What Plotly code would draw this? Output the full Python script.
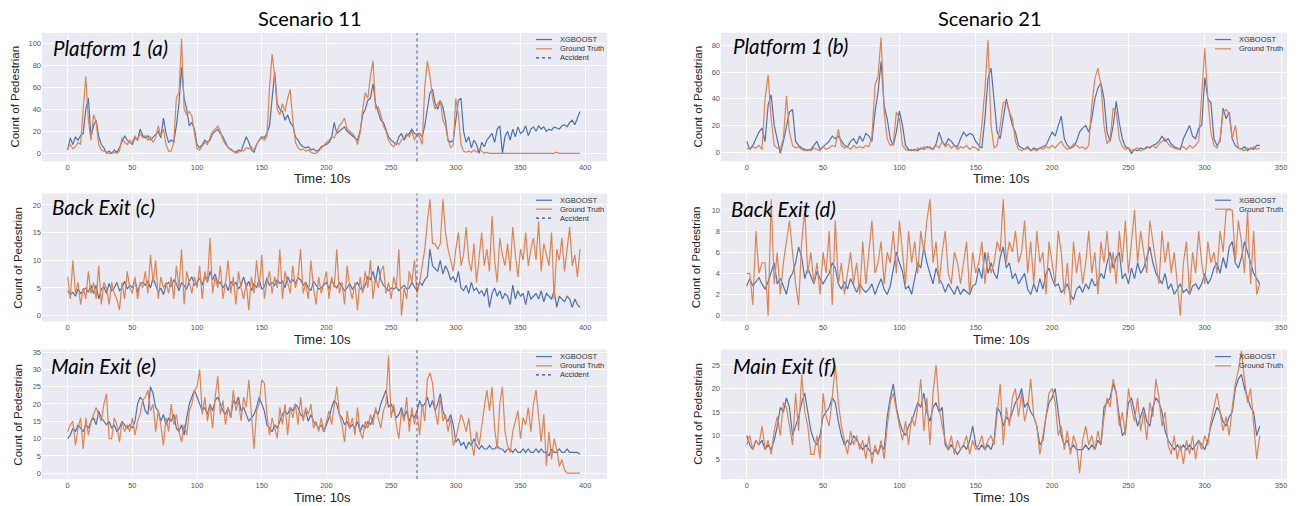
import plotly.graph_objects as go

# ---------------- data (time step sampled every 2 units of 10 s) ----------------
STEP = 2
T_S11 = list(range(0, 397, STEP))   # Scenario 11: 0..396
T_S21 = list(range(0, 337, STEP))   # Scenario 21: 0..336
ACCIDENT_T = 270

# Scenario 11 - Platform 1 (a)
XGB_A = [3, 14, 8, 15, 12, 16, 18, 40, 50, 15,
         25, 30, 15, 8, 5, 0, 2, 0, 3, 1,
         5, 10, 16, 12, 10, 8, 14, 12, 22, 16,
         14, 16, 12, 15, 18, 20, 14, 32, 18, 10,
         12, 10, 25, 45, 78, 50, 40, 25, 28, 22,
         8, 5, 8, 12, 10, 12, 18, 20, 22, 18,
         15, 10, 5, 4, 2, 1, 3, 2, 8, 15,
         10, 3, 1, 8, 12, 15, 14, 18, 25, 50,
         74, 45, 40, 38, 30, 35, 28, 25, 15, 12,
         8, 6, 5, 6, 3, 4, 2, 3, 6, 7,
         8, 10, 14, 28, 18, 20, 22, 24, 20, 18,
         16, 14, 12, 20, 35, 40, 48, 50, 63, 45,
         38, 30, 28, 22, 15, 12, 10, 8, 15, 18,
         12, 16, 18, 22, 18, 17, 18, 15, 25, 40,
         55, 58, 45, 40, 48, 42, 30, 12, 10, 12,
         30, 48, 50, 20, 10, 15, 5, 12, 8, 0,
         10, 6, 12, 15, 18, 10, 22, 25, 0, 15,
         20, 12, 22, 15, 24, 18, 20, 25, 16, 22,
         24, 20, 25, 22, 24, 20, 22, 21, 24, 23,
         22, 25, 26, 24, 28, 30, 26, 32, 38]
GT_A = [5, 8, 4, 6, 10, 8, 40, 70, 30, 12,
        35, 28, 8, 3, 2, 1, 0, 0, 1, 0,
        2, 14, 10, 8, 12, 10, 16, 12, 18, 14,
        16, 12, 15, 10, 14, 25, 16, 22, 8, 2,
        2, 10, 50, 55, 104, 40, 35, 38, 34, 18,
        4, 3, 6, 10, 8, 15, 20, 22, 25, 20,
        12, 8, 5, 3, 2, 0, 1, 3, 2, 5,
        4, 6, 3, 8, 12, 14, 12, 15, 60, 90,
        70, 40, 35, 45, 38, 50, 58, 30, 10, 5,
        3, 4, 2, 3, 1, 0, 0, 2, 5, 8,
        10, 12, 15, 14, 20, 25, 28, 32, 22, 20,
        18, 15, 8, 18, 40, 55, 50, 70, 84, 40,
        42, 35, 25, 20, 12, 8, 6, 10, 8, 12,
        14, 18, 15, 20, 12, 18, 15, 8, 60, 84,
        70, 50, 40, 45, 48, 30, 25, 12, 5, 8,
        50, 35, 8, 2, 1, 2, 1, 3, 1, 4,
        2, 0, 1, 0, 0, 0, 0, 0, 0, 0,
        0, 0, 0, 0, 0, 0, 0, 0, 0, 0,
        0, 0, 0, 0, 0, 0, 0, 0, 0, 1,
        0, 0, 0, 0, 0, 0, 0, 0, 0]

# Scenario 21 - Platform 1 (b)
XGB_B = [8, 2, 5, 10, 15, 18, 8, 35, 43, 20,
         10, -1, 8, 20, 30, 32, 8, 5, 3, 2,
         1, 2, 5, 8, 2, 4, 6, 8, 12, 10,
         12, 8, 5, 4, 8, 10, 6, 12, 8, 14,
         12, 8, 30, 45, 68, 35, 25, 10, 5, 15,
         31, 20, 5, 2, 1, 2, 1, 3, 2, 4,
         3, 2, 6, 15, 8, 5, 10, 8, 5, 4,
         10, 15, 12, 14, 13, 8, 5, 3, 25, 55,
         63, 40, 15, 10, 25, 40, 30, 20, 15, 5,
         3, 2, 4, 1, 3, 2, 3, 4, 5, 10,
         15, 12, 20, 27, 10, 5, 3, 4, 8, 15,
         18, 20, 15, 25, 40, 48, 52, 40, 15, 8,
         20, 38, 22, 10, 4, 3, -1, 2, 1, 3,
         2, 4, 3, 5, 6, 8, 12, 8, 10, 6,
         4, 3, 2, 10, 15, 20, 12, 10, 18, 20,
         56, 40, 37, 10, 5, 8, 33, 25, 30, 10,
         5, 3, 2, 4, 1, 3, 2, 5, 5]
GT_B = [3, 2, 4, 3, 5, 2, 40, 58, 25, 5,
        3, 2, 10, 42, 15, 5, 3, 4, 2, 1,
        2, 1, 3, 2, 1, 4, 2, 3, 5, 4,
        17, 5, 3, 4, 2, 5, 3, 4, 3, 5,
        4, 12, 50, 57, 86, 30, 10, 5, 6, 30,
        25, 5, 2, 1, 2, 1, 3, 2, 4, 3,
        4, 2, 5, 3, 8, 4, 6, 3, 5, 2,
        4, 3, 5, 2, 4, 3, 1, 20, 47, 84,
        20, 3, 5, 20, 37, 38, 30, 25, 8, 2,
        1, 2, 3, 1, 2, 1, 3, 2, 4, 3,
        5, 3, 6, 8, 4, 2, 3, 6, 5, 3,
        4, 2, 5, 35, 55, 63, 50, 20, 6, 10,
        33, 30, 10, 4, 2, 3, 1, 2, 3, 1,
        2, 3, 4, 5, 3, 6, 8, 10, 6, 4,
        3, 2, 3, 4, 2, 5, 3, 5, 8, 45,
        78, 40, 15, 5, 3, 10, 30, 32, 28, 10,
        20, 3, 2, 1, 3, 2, 4, 2, 3]

# Scenario 11 - Back Exit (c)
XGB_C = [4.5, 3.8, 4.2, 3.5, 4.8, 4.0, 4.5, 5.0, 4.2, 5.5,
         4.0, 5.5, 3.0, 4.8, 5.2, 4.0, 5.8, 4.5, 5.0, 6.0,
         4.5, 5.0, 6.2, 4.8, 5.5, 5.0, 6.5, 4.2, 5.8, 6.0,
         5.5, 6.2, 5.0, 6.8, 5.5, 4.2, 5.0, 3.8, 5.5, 6.0,
         5.2, 6.5, 5.8, 4.5, 6.0, 5.5, 4.8, 6.2, 7.0, 5.5,
         6.0, 6.8, 5.5, 7.2, 6.0, 8.0, 6.5, 7.5, 5.8, 6.0,
         5.0, 5.8, 4.5, 6.2, 5.5, 6.0, 4.8, 5.5, 7.0, 5.2,
         6.2, 4.5, 5.8, 5.0, 6.5, 4.8, 5.2, 6.8, 5.5, 6.0,
         5.5, 6.5, 5.8, 6.2, 5.0, 7.0, 6.0, 6.5, 5.8, 6.8,
         6.5, 5.5, 6.0, 5.0, 4.5, 6.2, 5.5, 4.8, 5.0, 5.5,
         6.0, 4.8, 6.5, 5.5, 5.0, 6.0, 5.2, 4.5, 5.0, 5.8,
         4.8, 5.5, 6.0, 5.0, 4.5, 5.5, 7.0, 6.5, 8.0, 6.0,
         9.0, 6.5, 5.5, 5.0, 4.5, 5.0, 4.8, 5.2, 4.5, 5.0,
         5.5, 4.8, 5.0, 6.0, 5.2, 4.5, 6.0, 5.5, 6.5, 7.0,
         12.0, 9.0, 8.5, 8.0, 10.0, 7.5, 9.0, 8.0, 6.5, 7.0,
         6.0, 8.0, 5.0, 4.5, 5.5, 4.0, 6.0, 4.5, 5.0, 4.0,
         4.5, 3.5, 5.0, 1.5, 4.0, 5.0, 3.5, 4.5, 3.0, 4.0,
         3.5, 2.0, 5.5, 3.0, 4.5, 3.5, 4.0, 2.0, 4.5, 3.0,
         3.5, 4.0, 3.0, 4.5, 2.5, 4.0, 3.5, 3.0, 4.5, 1.5,
         3.5, 3.0, 2.5, 3.5, 3.0, 1.5, 3.0, 2.0, 1.5]
GT_C = [7, 3, 10, 4, 6, 2, 5, 3, 8, 4,
        6, 3, 9, 2, 6, 5, 2, 6, 4, 3,
        1, 6, 3, 8, 5, 4, 7, 3, 6, 5,
        8, 4, 11, 6, 10, 3, 7, 5, 6, 4,
        7, 3, 9, 5, 12, 2, 8, 6, 4, 7,
        5, 9, 3, 8, 6, 14, 4, 7, 5, 9,
        3, 6, 10, 4, 7, 2, 8, 5, 3, 6,
        1, 7, 4, 10, 5, 11, 3, 6, 8, 4,
        7, 5, 12, 3, 8, 6, 4, 9, 5, 7,
        12, 4, 6, 3, 10, 5, 2, 7, 4, 6,
        8, 3, 7, 5, 12, 4, 6, 2, 9, 5,
        3, 6, 1, 7, 4, 8, 5, 10, 3, 7,
        5, 8, 9, 4, 6, 3, 7, 5, 12, 0,
        5, 3, 8, 6, 10, 4, 6, 9, 12, 17,
        21, 13, 13, 12, 13, 21, 15, 12, 10, 8,
        12, 15, 9, 11, 16, 10, 8, 13, 6, 11,
        15, 9, 12, 8, 18, 10, 6, 14, 11, 9,
        13, 8, 16, 11, 7, 12, 10, 15, 9, 12,
        14, 10, 17, 8, 13, 11, 9, 15, 3, 12,
        10, 14, 8, 12, 16, 9, 11, 7, 12]

# Scenario 21 - Back Exit (d)
XGB_D = [2.8, 3.5, 2.8, 3.2, 3.6, 3.0, 2.5, 3.2, 4.0, 5.0,
         3.0, 3.5, 2.8, 2.0, 3.5, 4.0, 5.0, 6.5, 5.5, 3.5,
         4.5, 3.8, 3.0, 4.2, 3.5, 3.0, 3.5, 4.0, 5.0, 4.5,
         3.0, 2.5, 3.2, 2.5, 3.5, 2.8, 2.2, 3.0, 2.5, 2.2,
         2.5, 3.0, 2.0, 2.8, 3.5, 2.5, 2.0, 2.8, 4.5, 6.0,
         5.0, 4.2, 2.5, 2.8, 2.0, 3.5, 5.0, 4.5, 6.5, 5.0,
         4.0, 3.0, 4.5, 3.5, 3.0, 2.2, 3.0, 2.5, 2.0, 2.8,
         2.0, 2.5, 2.2, 2.0, 2.8, 3.0, 4.5, 3.5, 6.0, 4.0,
         5.0, 4.0, 3.5, 5.5, 6.5, 4.5, 5.0, 3.5, 4.0, 3.0,
         3.5, 4.0, 2.5, 2.0, 3.0, 2.2, 3.5, 2.5, 4.0, 4.5,
         3.5, 2.8, 3.0, 2.2, 2.5, 3.0, 2.0, 1.5, 2.5, 2.8,
         2.2, 3.0, 2.5, 3.5, 2.8, 3.2, 4.0, 3.5, 5.0, 6.0,
         4.5, 5.5, 6.0, 3.5, 4.0, 3.0, 4.5, 3.5, 5.0, 4.0,
         4.5, 5.5, 6.5, 5.0, 4.0, 3.5, 3.0, 4.0, 2.5, 3.0,
         2.0, 2.5, 3.0, 2.2, 2.5, 2.0, 2.8, 3.0, 2.5, 3.0,
         4.0, 3.0, 3.5, 4.5, 5.0, 4.0, 5.5, 4.5, 6.5, 7.0,
         5.0, 4.5, 5.5, 7.0, 6.0, 5.0, 4.0, 3.5, 3.0]
GT_D = [4, 4, 1, 8, 4, 5, 5, 0, 11, 3,
        6, 2, 5, 7, 9, 6, 3, 1, 7, 10,
        4, 6, 3, 5, 2, 6, 4, 8, 1, 9,
        3, 5, 2, 4, 6, 3, 5, 2, 7, 3,
        6, 9, 4, 5, 7, 3, 6, 5, 8, 4,
        9, 6, 3, 8, 5, 7, 4, 8, 6, 9,
        11, 5, 7, 3, 6, 8, 4, 3, 6, 5,
        3, 5, 7, 2, 6, 4, 5, 7, 3, 6,
        4, 5, 7, 6, 11, 5, 7, 6, 8, 5,
        6, 9, 4, 7, 3, 8, 5, 6, 2, 7,
        5, 3, 8, 6, 2, 5, 1, 7, 4, 6,
        3, 5, 8, 4, 6, 2, 7, 5, 8, 4,
        6, 3, 8, 5, 9, 4, 7, 10, 5, 8,
        6, 4, 9, 7, 5, 3, 8, 5, 7, 4,
        6, 3, 0, 5, 7, 2, 6, 4, 8, 5,
        3, 7, 5, 6, 4, 8, 6, 10, 10, 10,
        5, 9, 7, 4, 10, 3, 8, 2, 3]

# Scenario 11 - Main Exit (e)
XGB_E = [10, 11, 13, 12, 14, 13, 12, 14, 13, 15,
         16, 14, 18, 16, 15, 14, 15, 13, 14, 12,
         13, 15, 14, 13, 14, 13, 15, 20, 22, 21,
         18, 17, 25, 23, 19, 18, 15, 17, 14, 16,
         15, 17, 13, 12, 14, 11, 16, 20, 22, 24,
         22, 20, 18, 19, 17, 20, 18, 21, 22, 20,
         18, 17, 19, 16, 21, 20, 22, 18, 19, 17,
         15, 16, 17, 19, 22, 20, 18, 14, 13, 12,
         14, 13, 15, 17, 18, 17, 19, 18, 20, 19,
         17, 16, 18, 15, 17, 15, 14, 13, 14, 12,
         14, 16, 19, 21, 20, 17, 16, 14, 15, 13,
         14, 13, 15, 12, 14, 13, 15, 14, 16, 18,
         17, 20, 22, 24, 19, 20, 18, 16, 17, 19,
         16, 18, 15, 17, 16, 18, 21, 19, 20, 22,
         19, 21, 18, 20, 23, 18, 16, 15, 17, 14,
         9, 10, 8, 9, 7, 9, 8, 10, 8, 7,
         8, 7, 7, 8, 7, 7, 8, 7, 7, 6,
         7, 7, 6, 7, 6, 6, 7, 6, 7, 6,
         6, 7, 6, 7, 6, 6, 5, 7, 6, 6,
         7, 6, 6, 7, 6, 6, 6, 6, 5.5]
GT_E = [12, 14, 15, 8, 13, 16, 7, 16, 11, 15,
        17, 19, 17, 15, 20, 23, 10, 10, 16, 14,
        9, 15, 12, 14, 12, 16, 11, 15, 17, 21,
        22, 24, 18, 20, 12, 18, 14, 8, 16, 12,
        20, 14, 17, 12, 9, 14, 11, 18, 20, 24,
        25, 30, 17, 22, 15, 20, 13, 22, 28, 17,
        21, 14, 19, 16, 24, 18, 21, 15, 22, 19,
        27, 17, 7, 18, 20, 27, 26, 17, 11, 16,
        13, 10, 19, 14, 20, 11, 19, 16, 20, 14,
        22, 15, 19, 17, 20, 13, 15, 12, 16, 12,
        15, 18, 14, 20, 25, 17, 14, 9, 18, 13,
        16, 11, 19, 12, 10, 15, 13, 17, 14, 19,
        16, 13, 18, 20, 34, 16, 20, 14, 10, 18,
        15, 22, 12, 19, 14, 18, 11, 20, 15, 27,
        29, 26, 18, 14, 22, 15, 17, 12, 16, 8,
        10, 14, 17, 15, 12, 16, 9, 5, 12, 8,
        14, 19, 24, 18, 25, 13, 7, 20, 25, 12,
        8, 6, 12, 15, 18, 10, 16, 14, 19, 12,
        20, 24, 16, 9, 17, 2, 12, 4, 10, 7,
        2, 4, 1, 0, 0, 0, 0, 0, 0]

# Scenario 21 - Main Exit (f)
XGB_F = [10, 8, 7, 9, 8, 9, 7, 8, 7, 9,
         12, 16, 15, 18, 16, 10, 12, 14, 17, 19,
         15, 11, 9, 8, 10, 14, 15, 16, 18, 17,
         13, 10, 8, 9, 8, 10, 9, 8, 7, 8,
         7, 6, 7, 6, 8, 7, 14, 18, 21, 16,
         13, 11, 10, 12, 13, 15, 17, 16, 19, 15,
         13, 16, 17, 15, 16, 8, 7, 8, 7, 6,
         7, 8, 7, 9, 12, 8, 7, 8, 7, 8,
         7, 9, 16, 15, 12, 14, 13, 15, 17, 18,
         20, 16, 17, 15, 14, 12, 8, 9, 14, 17,
         18, 20, 15, 10, 8, 9, 7, 8, 7, 7,
         7, 8, 7, 8, 7, 9, 8, 16, 17, 18,
         21, 19, 14, 10, 11, 17, 18, 15, 12, 14,
         16, 13, 12, 16, 18, 17, 15, 11, 9, 8,
         7, 8, 7, 8, 7, 8, 7, 8, 9, 8,
         7, 9, 12, 14, 16, 15, 13, 12, 14, 15,
         20, 22, 23, 20, 18, 16, 15, 10, 12]
GT_F = [8, 10, 7, 9, 8, 12, 7, 9, 6, 11,
        14, 10, 17, 16, 12, 8, 19, 11, 23, 15,
        12, 6, 6, 10, 5, 19, 14, 12, 18, 25,
        17, 12, 9, 6, 11, 8, 10, 7, 9, 5,
        10, 4, 8, 6, 9, 5, 12, 17, 19, 15,
        12, 9, 13, 8, 14, 12, 16, 22, 11, 18,
        8, 19, 25, 16, 12, 9, 7, 10, 6, 9,
        7, 8, 10, 6, 9, 7, 8, 10, 7, 9,
        10, 8, 14, 21, 8, 16, 12, 18, 20, 14,
        19, 13, 16, 22, 14, 12, 6, 10, 14, 19,
        20, 17, 10, 12, 7, 11, 6, 10, 8, 2,
        9, 12, 8, 10, 7, 11, 8, 14, 18, 16,
        22, 19, 12, 15, 10, 20, 16, 13, 18, 11,
        15, 9, 17, 14, 22, 18, 12, 15, 8, 6,
        10, 5, 8, 4, 9, 6, 10, 5, 9, 7,
        10, 8, 13, 16, 19, 15, 11, 14, 10, 16,
        21, 24, 28, 22, 17, 20, 12, 5, 10]

for name, arr, t in [("XGB_A", XGB_A, T_S11), ("GT_A", GT_A, T_S11),
                     ("XGB_C", XGB_C, T_S11), ("GT_C", GT_C, T_S11),
                     ("XGB_E", XGB_E, T_S11), ("GT_E", GT_E, T_S11),
                     ("XGB_B", XGB_B, T_S21), ("GT_B", GT_B, T_S21),
                     ("XGB_D", XGB_D, T_S21), ("GT_D", GT_D, T_S21),
                     ("XGB_F", XGB_F, T_S21), ("GT_F", GT_F, T_S21)]:
    assert len(arr) == len(t), (name, len(arr), len(t))

SCENARIO_TITLES = ["Scenario 11", "Scenario 21"]
PANEL_LABELS = ["Platform 1 (a)", "Platform 1 (b)", "Back Exit (c)",
                "Back Exit (d)", "Main Exit (e)", "Main Exit (f)"]
X_TICKS_S11 = [0, 50, 100, 150, 200, 250, 300, 350, 400]
X_TICKS_S21 = [0, 50, 100, 150, 200, 250, 300, 350]
Y_TICKS = [[0, 20, 40, 60, 80, 100], [0, 20, 40, 60, 80],
           [0, 5, 10, 15, 20], [0, 2, 4, 6, 8, 10],
           [0, 5, 10, 15, 20, 25, 30, 35], [5, 10, 15, 20, 25]]
LEGEND_NAMES = ["XGBOOST", "Ground Truth", "Accident"]

# ---------------- style / layout ----------------
W, H = 1301, 506
BLUE = "#4C72B0"
ORANGE = "#DD8452"
ACC = "#30489A"
BG = "#EAEAF2"
TXT = "#222222"
TICKC = "#555555"
SANS = "Liberation Sans, Arial, sans-serif"
TITLEF = "Lato, Open Sans, sans-serif"


def fx(p):
    return p / W


def fy(p):
    return 1 - p / H


COLS = [(42, 607), (721, 1287)]
ROWS = [(31, 160), (192.3, 320.7), (349, 479)]
X_RANGES = [[-19.85, 416.85], [-16.85, 353.85]]
Y_RANGES = [[-7.3, 109.3], [-7.0, 89.5], [-1.05, 22.05],
            [-0.55, 11.55], [-1.7, 35.7], [0.75, 28.25]]

panels = [
    (T_S11, XGB_A, GT_A, True),
    (T_S21, XGB_B, GT_B, False),
    (T_S11, XGB_C, GT_C, True),
    (T_S21, XGB_D, GT_D, False),
    (T_S11, XGB_E, GT_E, True),
    (T_S21, XGB_F, GT_F, False),
]

fig = go.Figure()
layout = dict(
    width=W, height=H, margin=dict(l=0, r=0, t=0, b=0),
    paper_bgcolor="white", plot_bgcolor=BG, showlegend=False,
    font=dict(family=SANS, color=TXT),
)
shapes = []
annotations = []

YTITLE_X = [15.5, 698.5, 18.3, 696.7, 18.3, 698.5]
LABEL_POS = [(51, 46), (731, 44), (50, 206), (729, 208), (49, 365), (731, 365)]
TIME_Y = [177, 339, 497]
TIME_X = [322, 1002]
LEG_Y = [(37.7, 47, 56), (37.7, 47), (199, 208, 217), (199, 208),
         (356, 365.3, 374.3), (356, 365.3)]
LEG_X = [(536, 552, 558), (1215, 1231, 1237)]

for i, (t, xgb, gt, acc) in enumerate(panels):
    r, c = divmod(i, 2)
    n = i + 1
    xa = "x" if n == 1 else f"x{n}"
    ya = "y" if n == 1 else f"y{n}"
    xkey = "xaxis" if n == 1 else f"xaxis{n}"
    ykey = "yaxis" if n == 1 else f"yaxis{n}"
    x0p, x1p = COLS[c]
    y0p, y1p = ROWS[r]
    layout[xkey] = dict(
        domain=[fx(x0p), fx(x1p)], anchor=ya, range=X_RANGES[c],
        tickvals=X_TICKS_S11 if c == 0 else X_TICKS_S21,
        showgrid=True, gridcolor="white", gridwidth=1.3, zeroline=False,
        showline=False, ticks="", tickfont=dict(size=7.5, color=TICKC, family=SANS),
    )
    layout[ykey] = dict(
        domain=[fy(y1p), fy(y0p)], anchor=xa, range=Y_RANGES[i],
        tickvals=Y_TICKS[i],
        showgrid=True, gridcolor="white", gridwidth=1.3, zeroline=False,
        showline=False, ticks="", tickfont=dict(size=7.5, color=TICKC, family=SANS),
    )
    fig.add_trace(go.Scatter(x=t, y=xgb, xaxis=xa, yaxis=ya, mode="lines",
                             name=LEGEND_NAMES[0],
                             line=dict(color=BLUE, width=1.2)))
    fig.add_trace(go.Scatter(x=t, y=gt, xaxis=xa, yaxis=ya, mode="lines",
                             name=LEGEND_NAMES[1],
                             line=dict(color=ORANGE, width=1.2)))
    if acc:
        shapes.append(dict(type="line", xref=xa, yref=f"{ya} domain",
                           x0=ACCIDENT_T, x1=ACCIDENT_T, y0=0, y1=1,
                           line=dict(color=ACC, width=0.9, dash="dot")))
    # y axis title
    annotations.append(dict(text="Count of Pedestrian", xref="paper", yref="paper",
                            x=fx(YTITLE_X[i]), y=fy((y0p + y1p) / 2),
                            xanchor="center", yanchor="middle", textangle=-90,
                            showarrow=False, font=dict(size=11.5, color=TXT, family=SANS)))
    # x axis title
    annotations.append(dict(text="Time: 10s", xref="paper", yref="paper",
                            x=fx(TIME_X[c]), y=fy(TIME_Y[r]),
                            xanchor="center", yanchor="middle", showarrow=False,
                            font=dict(size=13, color=TXT, family=SANS)))
    # panel label
    lx, ly = LABEL_POS[i]
    annotations.append(dict(text=PANEL_LABELS[i], xref="paper", yref="paper",
                            x=fx(lx), y=fy(ly), xanchor="left", yanchor="middle",
                            showarrow=False,
                            font=dict(size=20.5, color="black", family=TITLEF, style="italic")))
    # legend (manual)
    lxs, lxe, ltx = LEG_X[c]
    colors = [(BLUE, "solid"), (ORANGE, "solid"), (ACC, "dot")]
    for k, yy in enumerate(LEG_Y[i]):
        col, dsh = colors[k]
        shapes.append(dict(type="line", xref="paper", yref="paper",
                           x0=fx(lxs), x1=fx(lxe), y0=fy(yy), y1=fy(yy),
                           line=dict(color=col, width=1.2, dash=dsh)))
        annotations.append(dict(text=LEGEND_NAMES[k], xref="paper", yref="paper",
                                x=fx(ltx), y=fy(yy), xanchor="left", yanchor="middle",
                                showarrow=False,
                                font=dict(size=7.5, color="#333333", family=SANS)))

for c, title in enumerate(SCENARIO_TITLES):
    annotations.append(dict(text=title, xref="paper", yref="paper",
                            x=fx(310 if c == 0 else 990), y=fy(16),
                            xanchor="center", yanchor="middle", showarrow=False,
                            font=dict(size=20, color="black", family=TITLEF)))

layout["shapes"] = shapes
layout["annotations"] = annotations
fig.update_layout(**layout)
fig.write_html("out.html")
